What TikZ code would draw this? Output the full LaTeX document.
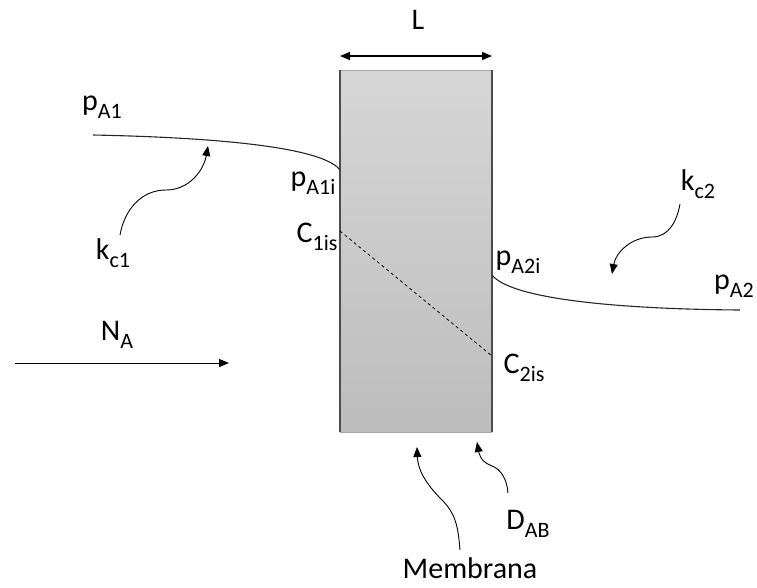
\documentclass[tikz,border=0pt]{standalone}
\usepackage{fontspec}
\setmainfont{Carlito}
\usetikzlibrary{arrows.meta}
\newcommand{\lowidx}[1]{\raisebox{-0.25em}{\fontsize{22}{24}\selectfont #1}}

\begin{document}
\begin{tikzpicture}[x=1pt,y=-1pt,>={Triangle[length=10pt,width=8pt]},
  lbl/.style={inner sep=0pt,font=\fontsize{30}{33}\selectfont},
  curve/.style={line width=1.1pt,black!85}]
\useasboundingbox (0,0) rectangle (757,587);
% membrane
\shade[top color=black!16,bottom color=black!26] (340,70) rectangle (492,432);
\draw[black!35,line width=0.8pt] (340,70) -- (492,70) (340,432) -- (492,432);
\draw[black!70,line width=1.4pt] (340,70) -- (340,432) (492,70) -- (492,432);
\coordinate (mtl) at (340,56);
\coordinate (mtr) at (492,56);
\draw[<->,line width=1.1pt] (mtl) -- (mtr);
\node[lbl] (L) at (418,20) {L};
% gas side 1
\node[lbl] (pA1) at (102,107) {p\lowidx{A1}};
\node[lbl] (pA1i) at (313,183) {p\lowidx{A1i}};
\node[lbl] (C1is) at (317,237) {C\lowidx{1is}};
\coordinate (g1) at (93,135);
\coordinate (i1) at (340,170);
\draw[curve] (g1) .. controls (240,138) and (325,150) .. (i1);
\node[lbl] (kc1) at (113,253) {k\lowidx{c1}};
\coordinate (k1s) at (120,235);
\coordinate (k1m) at (166,190);
\coordinate (k1e) at (208,146);
\draw[->,line width=0.9pt] (k1s) to[out=80,in=180] (k1m) to[out=0,in=-100] (k1e);
\node[lbl] (NA) at (117,335) {N\lowidx{A}};
\coordinate (na1) at (15,363);
\coordinate (na2) at (229,363);
\draw[->,line width=0.9pt] (na1) -- (na2);
% concentration profile in membrane
\coordinate (c1) at (340,231);
\coordinate (c2) at (492,356);
\draw[dashed,line width=0.8pt] (c1) -- (c2);
\node[lbl] (C2is) at (524,368) {C\lowidx{2is}};
% gas side 2
\node[lbl] (pA2i) at (518,262) {p\lowidx{A2i}};
\coordinate (i2) at (492,275);
\coordinate (g2) at (740,310);
\draw[curve] (i2) .. controls (510,298) and (610,309) .. (g2);
\node[lbl,anchor=west] (pA2) at (714,286) {p\lowidx{A2}};
\node[lbl] (kc2) at (698,184) {k\lowidx{c2}};
\coordinate (k2s) at (680,204);
\coordinate (k2m) at (652,237);
\coordinate (k2e) at (612,274);
\draw[->,line width=0.9pt] (k2s) to[out=-100,in=0] (k2m) to[out=180,in=80] (k2e);
% labels below
\node[lbl] (mem) at (470,568) {Membrana};
\coordinate (ms) at (460,550);
\coordinate (mm) at (442,500);
\coordinate (me) at (417,447);
\draw[->,line width=0.9pt] (ms) to[out=95,in=-45] (mm) to[out=135,in=-88] (me);
\node[lbl] (DAB) at (528,524) {D\lowidx{AB}};
\coordinate (ds) at (508,493);
\coordinate (dm) at (490,465);
\coordinate (de) at (477,442);
\draw[->,line width=0.9pt] (ds) to[out=95,in=-20] (dm) to[out=160,in=-80] (de);
\end{tikzpicture}
\end{document}
